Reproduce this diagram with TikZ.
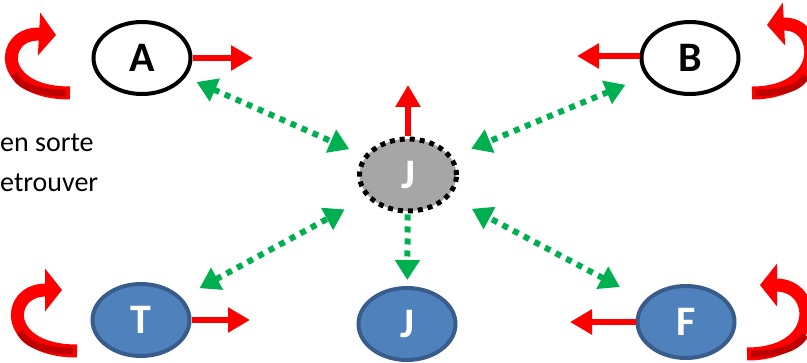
\documentclass[tikz,border=0pt]{standalone}
\usepackage{fontspec}
\setmainfont{Carlito}
\usepackage{xcolor}
\usetikzlibrary{shapes.geometric,arrows.meta}
\definecolor{pptred}{HTML}{FF0000}
\definecolor{pptdarkred}{HTML}{C00000}
\definecolor{pptgreen}{HTML}{00B050}
\definecolor{pptblue}{HTML}{4F81BD}
\definecolor{pptblueline}{HTML}{385D8A}
\definecolor{pptgrey}{HTML}{A6A6A6}
\tikzstyle{persnode} = [ellipse, inner sep=0pt, minimum width=97pt,
    minimum height=72pt, line width=4pt, font=\fontsize{42}{42}\selectfont\bfseries]
\tikzstyle{blanknode} = [persnode, draw=black, fill=white]
\tikzstyle{greynode} = [persnode, draw=black, fill=pptgrey, text=white,
    line width=5pt, dash pattern=on 5pt off 5pt]
\tikzstyle{bluenode} = [persnode, draw=pptblueline, fill=pptblue, text=white]
\tikzstyle{redarrow} = [draw=pptred, line width=6pt, -{Triangle[length=22pt,width=24pt]}]
\tikzstyle{greenarrow} = [draw=pptgreen, line width=6pt, dash pattern=on 6pt off 6pt,
    {Triangle[length=20pt,width=24pt]}-{Triangle[length=20pt,width=24pt]}]
\tikzstyle{turnarrow} = [draw=pptred, line width=13pt, -{Triangle[length=17pt,width=42pt]}]
\tikzstyle{turnshade} = [draw=pptdarkred, line width=7pt]
\tikzstyle{textline} = [inner sep=0pt, anchor=base west, font=\fontsize{28}{32}\selectfont]

\begin{document}
\begin{tikzpicture}[x=1pt,y=-1pt]
\useasboundingbox (0,0) rectangle (807,363);
% personnes
\node [blanknode] (A) at (142,58) {A};
\node [blanknode] (B) at (690,58) {B};
\node [greynode] (J) at (408,175) {J};
\node [bluenode] (T) at (141,320) {T};
\node [bluenode] (Jb) at (407,324) {J};
\node [bluenode] (F) at (686,322) {F};
% texte coupe a gauche
\node [textline] (txt1) at (0,152) {en sorte};
\node [textline] (txt2) at (0,192) {etrouver};
% fleches rouges droites
\coordinate (Aout) at (253,58);
\coordinate (Bout) at (577,56);
\coordinate (Jout) at (408,85);
\coordinate (Tout) at (250,320);
\coordinate (Fout) at (570,322);
\draw [redarrow] (A.east) -- (Aout);
\draw [redarrow] (B.west |- Bout) -- (Bout);
\draw [redarrow] (J.north) -- (Jout);
\draw [redarrow] (T.east) -- (Tout);
\draw [redarrow] (F.west) -- (Fout);
% fleches vertes
\draw [greenarrow, shorten <=12pt, shorten >=16pt] (A) -- (J);
\draw [greenarrow, shorten <=22pt, shorten >=20pt] (B) -- (J);
\draw [greenarrow, shorten <=20pt, shorten >=25pt] (T) -- (J);
\draw [greenarrow, shorten <=28pt, shorten >=25pt] (F) -- (J);
\draw [greenarrow, -{Triangle[length=20pt,width=24pt]}, shorten <=1pt, shorten >=6pt] (J) -- (Jb);
% fleches tournantes
\draw [turnarrow] (70,93) .. controls (-5,93) and (0,32) .. (56,35);
\draw [turnshade] (66,93) .. controls (40,93) and (20,88) .. (14,74);
\draw [turnarrow] (752,93) .. controls (827,93) and (822,22) .. (767,25);
\draw [turnshade] (756,93) .. controls (782,93) and (800,88) .. (806,76);
\draw [turnarrow] (77,351) .. controls (2,351) and (5,290) .. (62,290);
\draw [turnshade] (73,351) .. controls (47,351) and (27,346) .. (20,332);
\draw [turnarrow] (747,354) .. controls (822,354) and (818,285) .. (760,285);
\draw [turnshade] (751,354) .. controls (777,354) and (797,349) .. (805,335);
\end{tikzpicture}
\end{document}
